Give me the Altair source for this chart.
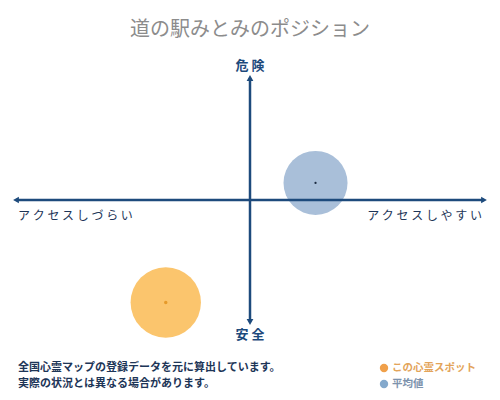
import altair as alt
import pandas as pd

# ---- data ----
categories = ["この心霊スポット", "平均値"]
access = [-0.36, 0.28]     # x: アクセスしづらい(-) ... アクセスしやすい(+)
risk = [-0.84, 0.14]       # y: 安全(-) ... 危険(+)

title_text = "道の駅みとみのポジション"
axis_top, axis_bottom = "危 険", "安 全"
axis_left, axis_right = "アクセスしづらい", "アクセスしやすい"
notes = ["全国心霊マップの登録データを元に算出しています。", "実際の状況とは異なる場合があります。"]

pts = pd.DataFrame({"name": categories, "x": access, "y": risk})
spot = pts[pts.name == categories[0]]
avg = pts[pts.name == categories[1]]

NAVY = "#1d4a7c"
FONT = "Noto Sans CJK JP"

xs = alt.Scale(domain=[-1, 1], range=[8, 476])
ys = alt.Scale(domain=[-1, 1], range=[314, 70])
X = lambda f="x": alt.X(f"{f}:Q", scale=xs, axis=None)
Y = lambda f="y": alt.Y(f"{f}:Q", scale=ys, axis=None)

avg_circle = alt.Chart(avg).mark_circle(color="#a9bfd9", opacity=1).encode(
    x=X(), y=Y(), size=alt.value(4100))
spot_circle = alt.Chart(spot).mark_circle(color="#fbc56d", opacity=1).encode(
    x=X(), y=Y(), size=alt.value(4950))
avg_dot = alt.Chart(avg).mark_circle(color="#1a2a40", opacity=1).encode(
    x=X(), y=Y(), size=alt.value(5))
spot_dot = alt.Chart(spot).mark_circle(color="#e69a2a", opacity=1).encode(
    x=X(), y=Y(), size=alt.value(12))

axes_df = pd.DataFrame({"x": [-1], "x2": [1], "ya": [-1], "yb": [1], "zero": [0]})
hline = alt.Chart(axes_df).mark_rule(color=NAVY, strokeWidth=2.5).encode(
    x=X("x"), x2="x2", y=Y("zero"))
vline = alt.Chart(axes_df).mark_rule(color=NAVY, strokeWidth=2.5).encode(
    x=X("zero"), y=Y("ya"), y2="yb")

heads = pd.DataFrame({
    "x": [-1, 1, 0, 0], "y": [0, 0, 1, -1],
    "shape": ["triangle-left", "triangle-right", "triangle-up", "triangle-down"],
})
arrows = alt.Chart(heads).mark_point(filled=True, color=NAVY, opacity=1, size=45).encode(
    x=X(), y=Y(), shape=alt.Shape("shape:N", scale=None, legend=None))

def label(text, x, y, size, color, align="center", weight="bold", baseline="middle"):
    return alt.Chart(pd.DataFrame({"t": [text]})).mark_text(
        font=FONT, fontSize=size, color=color, align=align, baseline=baseline, fontWeight=weight
    ).encode(text="t:N", x=alt.value(x), y=alt.value(y))

spaced = lambda s: " ".join(s)

texts = [
    label(title_text, 242, 22, 20, "#8c8c8c", weight="normal"),
    label(axis_top, 242, 58, 13, NAVY),
    label(axis_bottom, 242, 327, 13, NAVY),
    label(spaced(axis_left), 10, 208, 12, "#1d3557", align="left", weight="normal"),
    label(spaced(axis_right), 474, 208, 12, "#1d3557", align="right", weight="normal"),
    label(notes[0], 10, 360, 11, "#1d3557", align="left"),
    label(notes[1], 10, 376, 11, "#1d3557", align="left"),
    label(categories[0], 384, 360, 10.5, "#e3a45a", align="left"),
    label(categories[1], 384, 376, 10.5, "#7d93ad", align="left"),
]

legend_df = pd.DataFrame({"name": categories, "c": ["#f0a04a", "#84a9cc"]})
legend_dots = alt.Chart(legend_df).mark_circle(opacity=1, size=70).encode(
    x=alt.value(376),
    y=alt.Y("name:N", sort=categories,
            scale=alt.Scale(type="point", domain=categories, range=[360, 376], padding=0),
            axis=None),
    color=alt.Color("c:N", scale=None),
)

chart = alt.layer(
    avg_circle, spot_circle, hline, vline, arrows, avg_dot, spot_dot, legend_dots, *texts
).properties(
    width=484, height=384, autosize=alt.AutoSizeParams(type="none"), padding=0,
    background="white",
).configure_view(stroke=None)

chart.save("out.html", embed_options={"renderer": "svg", "actions": False})
